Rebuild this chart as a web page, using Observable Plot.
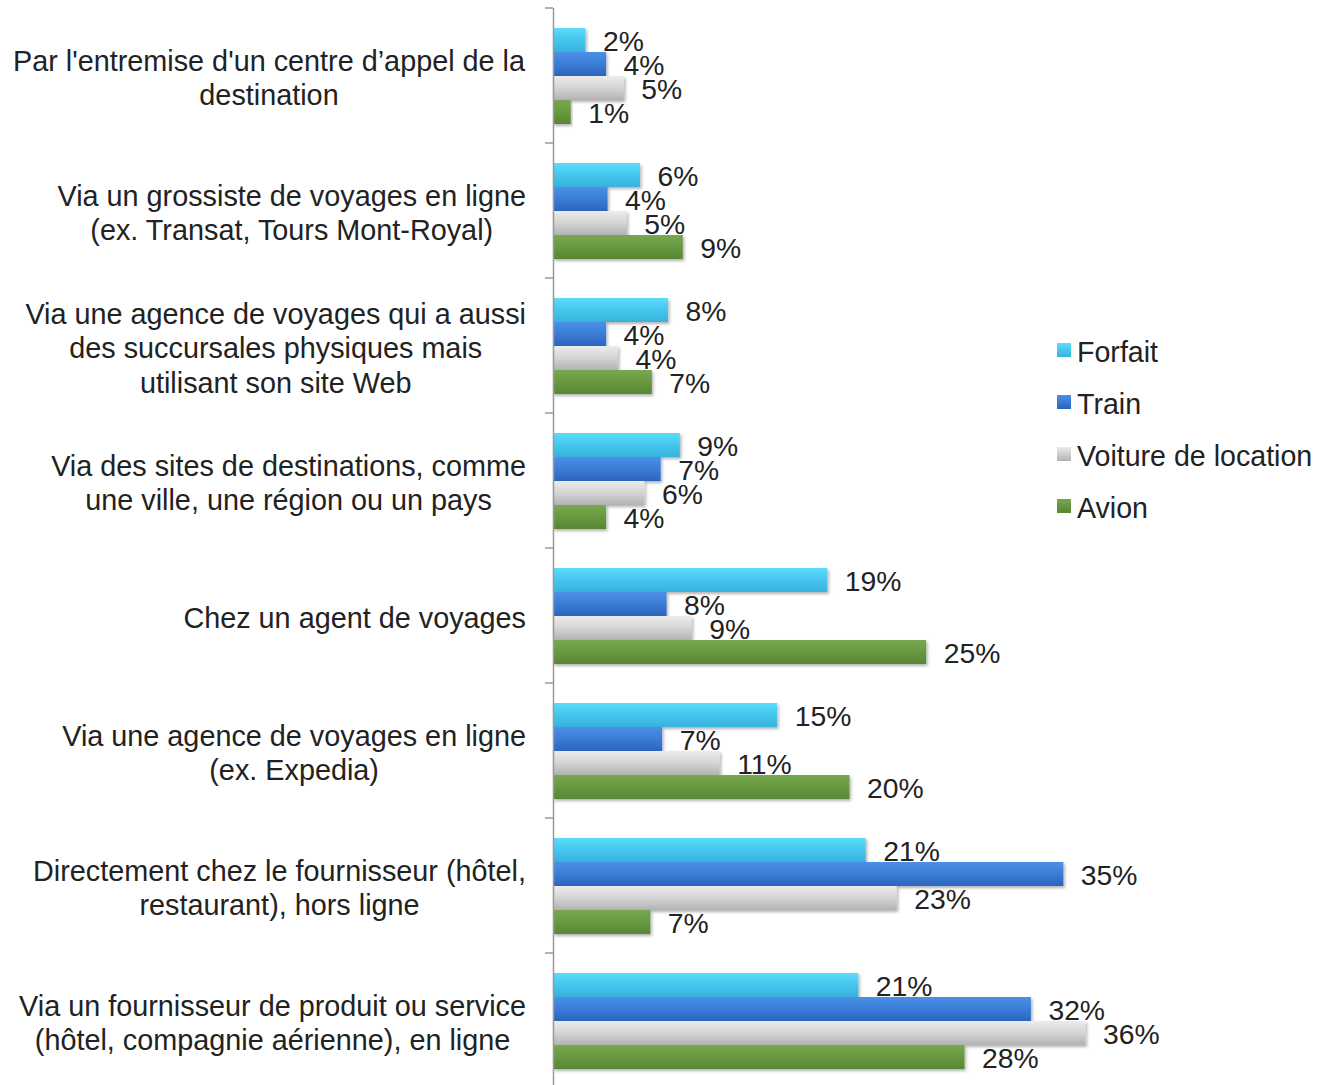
<!DOCTYPE html>
<html>
<head>
<meta charset="utf-8">
<script src="https://cdn.jsdelivr.net/npm/d3@7"></script>
<script src="https://cdn.jsdelivr.net/npm/@observablehq/plot@0.6"></script>
<style>
  html, body { margin: 0; padding: 0; background: #fff; }
  #wrap { position: relative; width: 1318px; height: 1085px; overflow: hidden; font-family: "Liberation Sans", Arial, Helvetica, sans-serif; }
  #chart { position: absolute; left: 0; top: 0; }
  #legend { position: absolute; left: 1057px; top: 326px; }
  .row { display: flex; align-items: center; height: 52px; font-size: 28.6px; color: #222; }
  .sw { width: 14px; height: 14px; margin-right: 6px; margin-top: -4px; }
</style>
</head>
<body>
<div id="wrap">
  <div id="chart"></div>
  <div id="legend"></div>
</div>
<script>
const categories = [
  "Par l'entremise d'un centre d’appel de la\ndestination",
  "Via un grossiste de voyages en ligne\n(ex. Transat, Tours Mont-Royal)",
  "Via une agence de voyages qui a aussi\ndes succursales physiques mais\nutilisant son site Web",
  "Via des sites de destinations, comme\nune ville, une région ou un pays",
  "Chez un agent de voyages",
  "Via une agence de voyages en ligne\n(ex. Expedia)",
  "Directement chez le fournisseur (hôtel,\nrestaurant), hors ligne",
  "Via un fournisseur de produit ou service\n(hôtel, compagnie aérienne), en ligne"
];
const series = ["Forfait", "Train", "Voiture de location", "Avion"];
const forfait = [2.2, 5.9, 7.8, 8.6, 18.6, 15.2, 21.2, 20.7];
const train   = [3.6, 3.7, 3.6, 7.3, 7.7, 7.4, 34.6, 32.4];
const voiture = [4.8, 5.0, 4.4, 6.2, 9.4, 11.3, 23.3, 36.1];
const avion   = [1.2, 8.8, 6.7, 3.6, 25.3, 20.1, 6.6, 27.9];

const seriesValues = [forfait, train, voiture, avion];
const gradients = [
  ["#5cdcfa", "#45c6ee", "#38b2dc"],
  ["#4a90e8", "#3a7cd6", "#2c64bd"],
  ["#ececec", "#d4d4d4", "#b2b2b2"],
  ["#77a84f", "#679940", "#588635"]
];
const gradIds = series.map((s, i) => "grad" + i);

const data = [];
categories.forEach((c, i) => {
  series.forEach((s, j) => {
    data.push({category: c, series: s, value: seriesValues[j][i]});
  });
});

const plot = Plot.plot({
  width: 1318,
  height: 1088,
  marginLeft: 553,
  marginRight: 175,
  marginTop: 8,
  marginBottom: 0,
  style: {fontFamily: '"Liberation Sans", Arial, Helvetica, sans-serif', background: "transparent"},
  x: {domain: [0, 40], axis: null},
  y: {domain: series, paddingInner: 0, paddingOuter: 0.76, axis: null},
  fy: {domain: categories, padding: 0, axis: null},
  color: {domain: series, range: gradIds.map(id => `url(#${id})`)},
  marks: [
    Plot.barX(data, {x: "value", y: "series", fy: "category", fill: "series", ariaDescription: "bars"}),
    Plot.text(data, {
      x: "value", y: "series", fy: "category",
      text: d => Math.round(d.value) + "%",
      textAnchor: "start", dx: 17, dy: 1, fontSize: 28.3, fill: "#222"
    }),
    Plot.text(categories, {
      fy: d => d, text: d => d,
      frameAnchor: "left", textAnchor: "middle", lineAnchor: "middle",
      lineHeight: 1.2, fontSize: 28.8, fill: "#222", dy: 1,
      ariaDescription: "catlabels"
    }),
    Plot.ruleX([0], {stroke: "#9a9a9a", strokeWidth: 1.5})
  ]
});

document.getElementById("chart").appendChild(plot);
const svg = d3.select(plot);

// gradients + shadow
const defs = svg.insert("defs", ":first-child");
gradients.forEach((stops, i) => {
  const g = defs.append("linearGradient").attr("id", gradIds[i])
    .attr("x1", 0).attr("y1", 0).attr("x2", 0).attr("y2", 1);
  g.append("stop").attr("offset", "0%").attr("stop-color", stops[0]);
  g.append("stop").attr("offset", "50%").attr("stop-color", stops[1]);
  g.append("stop").attr("offset", "100%").attr("stop-color", stops[2]);
});
const f = defs.append("filter").attr("id", "shadow")
  .attr("x", "-5%").attr("y", "-20%").attr("width", "115%").attr("height", "160%");
f.append("feDropShadow").attr("dx", 1.5).attr("dy", 2).attr("stdDeviation", 1.5)
  .attr("flood-color", "#000").attr("flood-opacity", 0.3);
svg.selectAll('g[aria-description="bars"] rect').attr("filter", "url(#shadow)");

// right-align category label blocks (lines centered) at x = 526
svg.selectAll('g[aria-description="catlabels"] text').each(function () {
  const b = this.getBBox();
  const m = this.getCTM();
  const right = (b.x + b.width) * (m ? m.a : 1) + (m ? m.e : 0);
  const shift = 526 - right;
  const t = this.getAttribute("transform") || "";
  this.setAttribute("transform", `translate(${shift},0) ` + t);
});

// tick marks at category boundaries on the axis
const fyd = plot.scale("fy");
const band = d3.scaleBand().domain(fyd.domain).range(fyd.range).padding(0);
const xs = plot.scale("x");
const x0 = d3.scaleLinear().domain(xs.domain).range(xs.range)(0);
const bounds = categories.map(c => band(c)).concat([band(categories[categories.length - 1]) + band.bandwidth()]);
svg.append("g").selectAll("line").data(bounds).join("line")
  .attr("x1", x0 - 8).attr("x2", x0).attr("y1", d => d).attr("y2", d => d)
  .attr("stroke", "#9a9a9a").attr("stroke-width", 1.5);

// legend
const legend = d3.select("#legend");
series.forEach((s, i) => {
  const row = legend.append("div").attr("class", "row");
  row.append("div").attr("class", "sw")
    .style("background", `linear-gradient(${gradients[i][0]}, ${gradients[i][2]})`);
  row.append("span").text(s);
});
</script>
</body>
</html>
